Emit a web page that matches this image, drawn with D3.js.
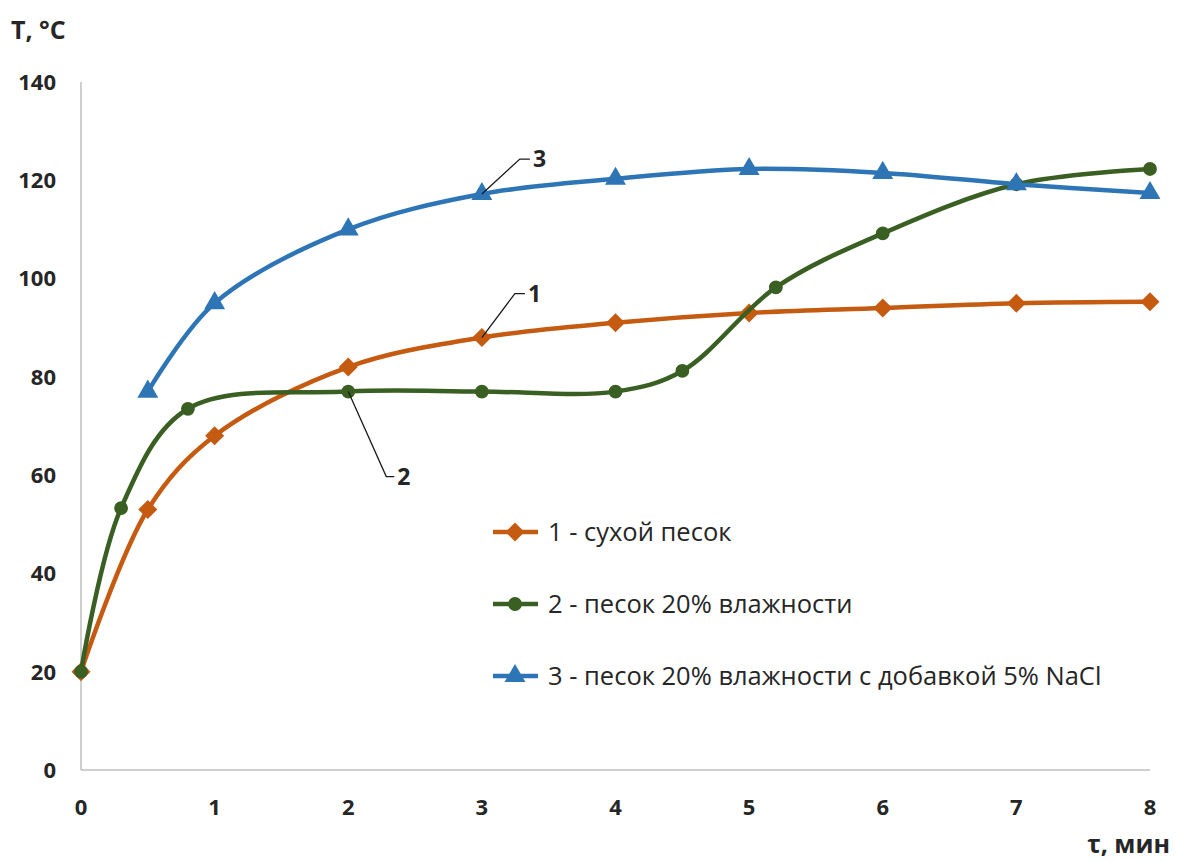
<!DOCTYPE html>
<html>
<head>
<meta charset="utf-8">
<script src="https://cdn.jsdelivr.net/npm/d3@7"></script>
<style>
  html, body { margin: 0; padding: 0; background: #fff; }
  svg { display: block; }
  text { font-family: "Open Sans", "Noto Sans", sans-serif; fill: #262626; }
</style>
</head>
<body>
<svg id="chart" width="1182" height="862"></svg>
<script>
// Heating curves: temperature of sand vs. time
const xTicks = [0, 1, 2, 3, 4, 5, 6, 7, 8];
const yTicks = [0, 20, 40, 60, 80, 100, 120, 140];

const drySandT   = [0, 0.5, 1, 2, 3, 4, 5, 6, 7, 8];
const drySandV   = [20, 53, 68, 82, 88, 91, 93, 94, 95, 95.3];

const wetSandT   = [0, 0.3, 0.8, 2, 3, 4, 4.5, 5.2, 6, 7, 8];
const wetSandV   = [20, 53.3, 73.5, 77, 77, 77, 81.2, 98.2, 109.2, 119.2, 122.3];

const saltSandT  = [0.5, 1, 2, 3, 4, 5, 6, 7, 8];
const saltSandV  = [77, 95, 110, 117.2, 120.3, 122.3, 121.5, 119.2, 117.4];

const seriesNames = [
  "1 - сухой песок",
  "2 - песок 20% влажности",
  "3 - песок 20% влажности с добавкой 5% NaCl"
];
const seriesColors = ["#C55A11", "#3A5F22", "#2E75B6"];
const seriesSymbols = [d3.symbolDiamond2, d3.symbolCircle, d3.symbolTriangle];

const series = [
  { t: drySandT,  v: drySandV,  label: "1" },
  { t: wetSandT,  v: wetSandV,  label: "2" },
  { t: saltSandT, v: saltSandV, label: "3" }
].map((s, i) => ({
  ...s,
  name: seriesNames[i],
  color: seriesColors[i],
  symbol: seriesSymbols[i],
  points: s.t.map((t, j) => [t, s.v[j]])
}));

const svg = d3.select("#chart");
const x = d3.scaleLinear().domain([0, 8]).range([81, 1150]);
const y = d3.scaleLinear().domain([0, 140]).range([770, 82]);

// axes (lines only, labels drawn separately)
svg.append("line")
  .attr("x1", x(0)).attr("x2", x(8)).attr("y1", y(0)).attr("y2", y(0))
  .attr("stroke", "#BFBFBF").attr("stroke-width", 1.5);
svg.append("line")
  .attr("x1", x(0)).attr("x2", x(0)).attr("y1", y(0)).attr("y2", y(140))
  .attr("stroke", "#BFBFBF").attr("stroke-width", 1.5);

svg.append("g").selectAll("text").data(yTicks).join("text")
  .attr("x", 56).attr("y", d => y(d)).attr("dy", "0.36em")
  .attr("text-anchor", "end")
  .attr("font-size", 22).attr("font-weight", 700)
  .text(d => d);

svg.append("g").selectAll("text").data(xTicks).join("text")
  .attr("x", d => x(d)).attr("y", 815)
  .attr("text-anchor", "middle")
  .attr("font-size", 22).attr("font-weight", 700)
  .text(d => d);

svg.append("text").attr("x", 11).attr("y", 39)
  .attr("font-size", 25).attr("font-weight", 700).text("T, °C");
svg.append("text").attr("x", 1170).attr("y", 853).attr("text-anchor", "end")
  .attr("font-size", 25).attr("font-weight", 700).text("τ, мин");

// smoothed lines
const line = d3.line()
  .x(d => x(d[0])).y(d => y(d[1]))
  .curve(d3.curveCatmullRom.alpha(0.5));

const markerSize = [230, 150, 190];

series.forEach((s, i) => {
  svg.append("path")
    .attr("d", line(s.points))
    .attr("fill", "none")
    .attr("stroke", s.color)
    .attr("stroke-width", 4.5)
    .attr("stroke-linejoin", "round");
  svg.append("g").selectAll("path").data(s.points).join("path")
    .attr("transform", d => `translate(${x(d[0])},${y(d[1])})`)
    .attr("d", d3.symbol().type(s.symbol).size(markerSize[i]))
    .attr("fill", s.color);
});

// callout labels pointing at curves
const callouts = [
  { s: 0, idx: 4, dx: 33, dy: -44, hx: 10, label: "1" },
  { s: 1, idx: 3, dx: 38, dy: 85, hx: 8, label: "2" },
  { s: 2, idx: 3, dx: 38, dy: -35, hx: 10, label: "3" }
];
callouts.forEach(c => {
  const p = series[c.s].points[c.idx];
  const px = x(p[0]), py = y(p[1]);
  svg.append("polyline")
    .attr("points", [[px, py], [px + c.dx, py + c.dy], [px + c.dx + c.hx, py + c.dy]].join(" "))
    .attr("fill", "none").attr("stroke", "#1a1a1a").attr("stroke-width", 1.3);
  svg.append("text")
    .attr("x", px + c.dx + c.hx + 3).attr("y", py + c.dy).attr("dy", "0.36em")
    .attr("font-size", 23).attr("font-weight", 700).text(c.label);
});

// legend
const legendY = [532, 604, 676];
const legend = svg.append("g");
series.forEach((s, i) => {
  const g = legend.append("g").attr("transform", `translate(0,${legendY[i]})`);
  g.append("line").attr("x1", 493).attr("x2", 538).attr("y1", 0).attr("y2", 0)
    .attr("stroke", s.color).attr("stroke-width", 4.5);
  g.append("path").attr("transform", "translate(515,0)")
    .attr("d", d3.symbol().type(s.symbol).size(markerSize[i]))
    .attr("fill", s.color);
  g.append("text").attr("x", 548).attr("y", 0).attr("dy", "0.35em")
    .attr("font-size", 25.5).text(s.name);
});
</script>
</body>
</html>
